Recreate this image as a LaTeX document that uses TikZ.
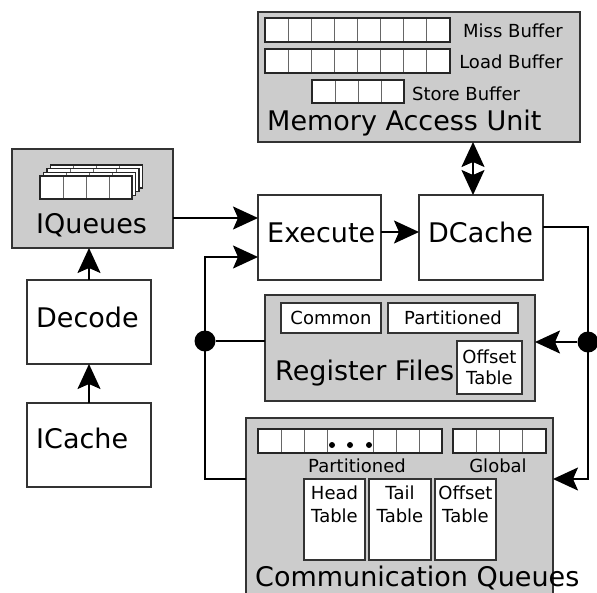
\documentclass[tikz,border=0pt]{standalone}
\usepackage{fontspec}
\setmainfont{DejaVu Sans}
\usetikzlibrary{arrows.meta}
\definecolor{panel}{RGB}{204,204,204}

\begin{document}
\begin{tikzpicture}[x=1pt,y=-1pt,
  box/.style={draw=black!80,line width=1.2pt,inner sep=0pt,outer sep=0pt,anchor=north west},
  unitbox/.style={box,fill=panel},
  stage/.style={box,fill=white},
  big/.style={inner sep=0pt,font=\fontsize{27}{30}\selectfont},
  small/.style={inner sep=0pt,font=\fontsize{18}{21}\selectfont},
  cell/.style={draw=black!60,line width=.9pt,fill=white},
  rim/.style={draw=black!85,line width=1.2pt},
  wire/.style={line width=1.8pt},
  tip/.tip={Stealth[length=25pt,width=23pt,inset=5pt]},
  flow/.style={wire,-tip},
  dot/.style={circle,fill,inner sep=0pt,minimum size=21pt}]
\useasboundingbox (0,0) rectangle (597,592);

% memory access unit
\node[unitbox,minimum width=322pt,minimum height=130pt] (mau) at (258,12) {};
\foreach \i in {0,...,7} \draw[cell] (265+23.125*\i,18) rectangle ++(23.125,24);
\draw[rim] (265,18) rectangle (450,42);
\foreach \i in {0,...,7} \draw[cell] (265+23.125*\i,49) rectangle ++(23.125,24);
\draw[rim] (265,49) rectangle (450,73);
\foreach \i in {0,...,3} \draw[cell] (312+23*\i,80) rectangle ++(23,23);
\draw[rim] (312,80) rectangle (404,103);
\node[small,anchor=base east] (miss-lbl) at (563,37) {Miss Buffer};
\node[small,anchor=base east] (load-lbl) at (563,68) {Load Buffer};
\node[small,anchor=base west] (store-lbl) at (412,100) {Store Buffer};
\node[big,anchor=base west] (mau-lbl) at (267,130) {Memory Access Unit};

% front end
\node[unitbox,minimum width=161pt,minimum height=99pt] (iq) at (12,149) {};
\foreach \k in {3,2,1,0} {
  \foreach \i in {0,...,3} \draw[cell] (40+3.5*\k+23*\i,176-3.7*\k) rectangle ++(23,23);
  \draw[rim] (40+3.5*\k,176-3.7*\k) rectangle ++(92,23);
}
\node[big,anchor=base west] (iq-lbl) at (36,233) {IQueues};
\node[stage,minimum width=124pt,minimum height=84pt] (dec) at (27,280) {};
\node[big,anchor=base west] (dec-lbl) at (36,327) {Decode};
\node[stage,minimum width=124pt,minimum height=84pt] (ic) at (27,403) {};
\node[big,anchor=base west] (ic-lbl) at (36,448) {ICache};

% execute and data cache
\node[stage,minimum width=123pt,minimum height=85pt] (exec) at (258,195) {};
\node[big,anchor=base west] (exec-lbl) at (267,242) {Execute};
\node[stage,minimum width=124pt,minimum height=85pt] (dc) at (419,195) {};
\node[big,anchor=base west] (dc-lbl) at (428,242) {DCache};

% register files
\node[unitbox,minimum width=270pt,minimum height=106pt] (rf) at (265,295) {};
\node[stage,small,minimum width=100pt,minimum height=30pt] (rf-common) at (281,303) {Common};
\node[stage,small,minimum width=130pt,minimum height=30pt] (rf-part) at (388,303) {Partitioned};
\node[stage,small,align=center,minimum width=65pt,minimum height=53pt] (rf-off) at (457,341) {Offset\\Table};
\node[big,anchor=base west] (rf-lbl) at (275,380) {Register Files};

% communication queues
\node[unitbox,minimum width=307pt,minimum height=200pt] (cq) at (246,418) {};
\foreach \x/\w in {258/23,281/23,304/23,327/46,373/23,396/23,419/23} \draw[cell] (\x,429) rectangle ++(\w,24);
\draw[rim] (258,429) rectangle (442,453);
\foreach \x in {332,350,369} \fill (\x,445) circle (3pt);
\foreach \i in {0,...,3} \draw[cell] (453+23.25*\i,429) rectangle ++(23.25,24);
\draw[rim] (453,429) rectangle (546,453);
\node[small,anchor=base] (part-lbl) at (357,472) {Partitioned};
\node[small,anchor=base] (glob-lbl) at (498,472) {Global};
\node[stage,minimum width=61pt,minimum height=81pt] (head) at (304,479) {};
\node[stage,minimum width=62pt,minimum height=81pt] (tail) at (369,479) {};
\node[stage,minimum width=61pt,minimum height=81pt] (cq-off) at (435,479) {};
\node[small,align=center,anchor=north,font=\fontsize{18}{23}\selectfont] (head-lbl) at ([yshift=-6.5pt]head.north) {Head\\Table};
\node[small,align=center,anchor=north,font=\fontsize{18}{23}\selectfont] (tail-lbl) at ([yshift=-6.5pt]tail.north) {Tail\\Table};
\node[small,align=center,anchor=north,font=\fontsize{18}{23}\selectfont] (off-lbl) at ([yshift=-6.5pt]cq-off.north) {Offset\\Table};
\node[big,anchor=base west] (cq-lbl) at (255,586) {Communication Queues};

% connections
\coordinate (exec-in1) at (258,218);
\coordinate (exec-in2) at (258,257);
\coordinate (bus) at (473,0);
\coordinate (cq-inL) at (246,479);
\coordinate (cq-inR) at (553,479);
\node[dot] (jl) at (205,341) {};
\node[dot] (jr) at (588,342) {};
\draw[flow] (ic.north) -- (dec.south);
\draw[flow] (dec.north) -- (dec.north |- iq.south);
\draw[flow] (iq.east |- exec-in1) -- (exec-in1);
\draw[flow] ([yshift=5.5pt]exec.east) -- ([yshift=5.5pt]dc.west);
\draw[wire,tip-tip] (mau.south -| bus) -- (dc.north -| bus);
\draw[flow] ([yshift=10.5pt]dc.east) -| (jr.center) |- (cq-inR);
\draw[flow] (jr) -- (rf.east |- jr);
\draw[wire] (rf.west |- jl) -- (jl);
\draw[flow] (cq-inL) -| (jl.center) |- (exec-in2);
\end{tikzpicture}
\end{document}
